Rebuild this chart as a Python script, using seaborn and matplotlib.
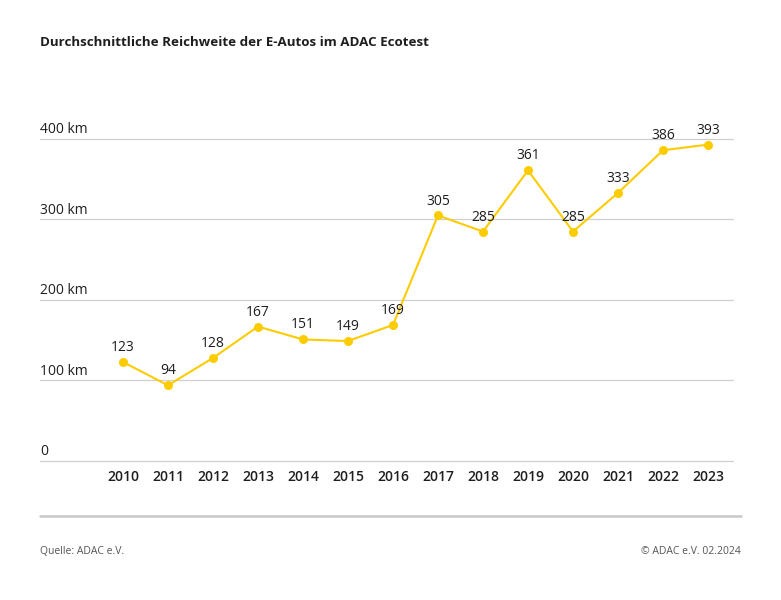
import pandas as pd
import matplotlib.pyplot as plt
import matplotlib.transforms as mtransforms
import seaborn as sns

# Data
years = [2010, 2011, 2012, 2013, 2014, 2015, 2016, 2017, 2018, 2019, 2020, 2021, 2022, 2023]
range_km = [123, 94, 128, 167, 151, 149, 169, 305, 285, 361, 285, 333, 386, 393]
y_ticks = [0, 100, 200, 300, 400]
y_tick_labels = ['0', '100 km', '200 km', '300 km', '400 km']

title = 'Durchschnittliche Reichweite der E-Autos im ADAC Ecotest'
source = 'Quelle: ADAC e.V.'
copyright_note = '\u00a9 ADAC e.V. 02.2024'

LINE_COLOR = '#FDCC00'
TEXT_COLOR = '#1E1E1E'
GRID_COLOR = '#D0D0D0'

df = pd.DataFrame({'year': years, 'km': range_km})

sns.set_theme(style='white')
plt.rcParams['font.family'] = ['Open Sans', 'DejaVu Sans']

fig = plt.figure(figsize=(7.81, 6.0), dpi=100)
ax = fig.add_axes([40 / 781, 139 / 600, 693 / 781, 351 / 600])

sns.lineplot(data=df, x='year', y='km', ax=ax, color=LINE_COLOR, linewidth=1.5,
             marker='o', markersize=6.5, markeredgewidth=0, zorder=3)

# value labels above each point
for x, y in zip(years, range_km):
    ax.annotate(str(y), (x, y), xytext=(0, 5), textcoords='offset points',
                ha='center', va='bottom', fontsize=10, color=TEXT_COLOR,
                fontweight='medium')

ax.set_xlim(2008.156, 2023.556)
ax.set_ylim(0, 436)

# gridlines with labels sitting just above them at the left edge
ax.set_yticks(y_ticks)
ax.set_yticklabels([])
ax.tick_params(axis='y', length=0)
for val in y_ticks:
    ax.axhline(val, color=GRID_COLOR, linewidth=0.9, zorder=1, clip_on=False)
trans = mtransforms.blended_transform_factory(ax.transAxes, ax.transData)
for val, lab in zip(y_ticks, y_tick_labels):
    ax.text(0, val + 2, lab, transform=trans, ha='left', va='bottom',
            fontsize=10, color=TEXT_COLOR, fontweight='medium')

ax.set_xticks(years)
ax.set_xticklabels([str(y) for y in years], fontsize=10, color=TEXT_COLOR,
                   fontweight='semibold')
ax.tick_params(axis='x', length=0, pad=6.5)
ax.set_xlabel('')
ax.set_ylabel('')
for side in ['top', 'right', 'left', 'bottom']:
    ax.spines[side].set_visible(False)

fig.text(40 / 781, 1 - 43 / 600, title, ha='left', va='center',
         fontsize=9.6, fontweight='bold', color=TEXT_COLOR)

# separator line and footer
fig.add_artist(plt.Line2D([40 / 781, 741 / 781], [1 - 516 / 600, 1 - 516 / 600],
                          color='#C8C8C8', linewidth=1.8))
fig.text(40 / 781, 1 - 552 / 600, source, ha='left', va='center',
         fontsize=7.5, color='#555555')
fig.text(741 / 781, 1 - 552 / 600, copyright_note, ha='right', va='center',
         fontsize=7.5, color='#555555')

fig.savefig('out.png', dpi=100)
